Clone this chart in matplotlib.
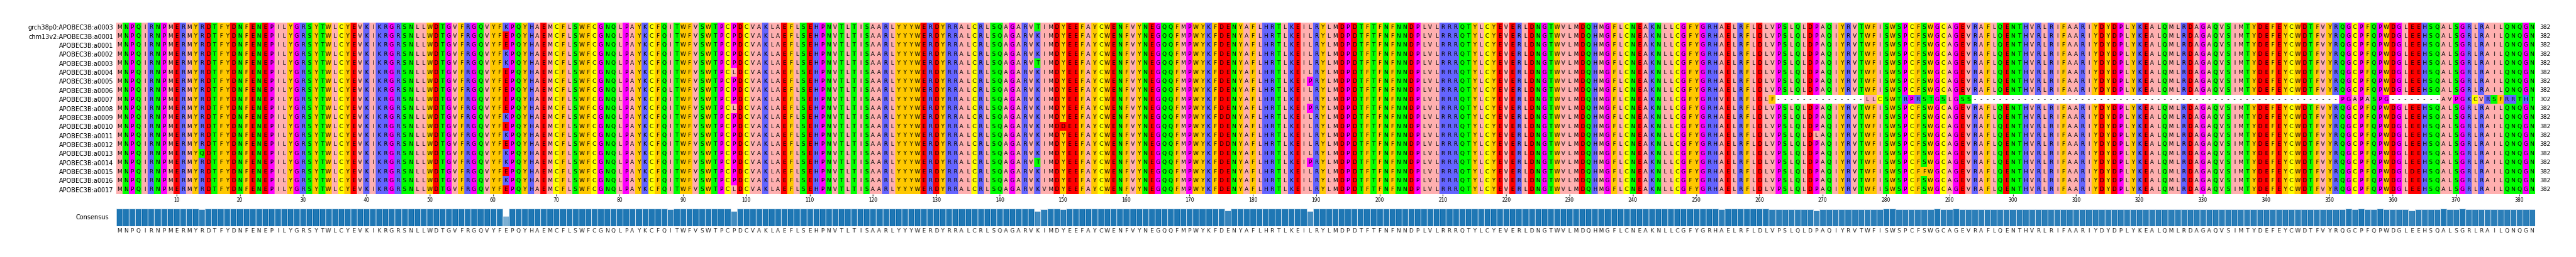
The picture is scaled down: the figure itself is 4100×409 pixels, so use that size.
import numpy as np
import matplotlib.pyplot as plt
from matplotlib.colors import to_rgb
from matplotlib.transforms import blended_transform_factory

# sequence names (top to bottom)
names = ["grch38p0:APOBEC3B:a0003", "chm13v2:APOBEC3B:a0001"] + \
        [f"APOBEC3B:a{i:04d}" for i in range(1, 18)]

# reference / consensus protein
consensus_seq = (
    "MNPQIRNPMERMYRDTFYDNFENEPILYGRSYTWLCYEVKIKRGRSNLLWDTGVFRGQVYFEPQYHAEMC"
    "FLSWFCGNQLPAYKCFQITWFVSWTPCPDCVAKLAEFLSEHPNVTLTISAARLYYYWERDYRRALCRLSQ"
    "AGARVKIMDYEEFAYCWENFVYNEGQQFMPWYKFDENYAFLHRTLKEILRYLMDPDTFTFNFNNDPLVLR"
    "RRQTYLCYEVERLDNGTWVLMDQHMGFLCNEAKNLLCGFYGRHAELRFLDLVPSLQLDPAQIYRVTWFIS"
    "WSPCFSWGCAGEVRAFLQENTHVRLRIFAARIYDYDPLYKEALQMLRDAGAQVSIMTYDEFEYCWDTFVY"
    "RQGCPFQPWDGLEEHSQALSGRLRAILQNQGN"
)

# point substitutions: (row index, 1-based position, residue)
substitutions = [
    (14, 14, "Q"),
    (0, 62, "K"), (3, 62, "K"), (4, 62, "K"), (10, 62, "K"),
    (12, 62, "K"), (14, 62, "K"), (15, 62, "K"), (17, 62, "K"),
    (7, 88, "L"),
    (5, 98, "L"), (9, 98, "L"), (18, 98, "L"),
    (0, 146, "T"), (4, 146, "T"), (15, 146, "T"),
    (18, 147, "V"),
    (11, 150, "D"),
    (10, 176, "D"), (13, 176, "D"),
    (6, 189, "P"), (9, 189, "P"), (15, 189, "P"),
    (12, 269, "L"),
    (16, 286, "F"),
    (16, 363, "D"),
]

# row with truncated / frameshifted tail (APOBEC3B:a0007), positions 248-382
gap_row = 8
gap_row_tail = ("GFYGRHVELRFLDLF" + "-" * 14 + "LLCSWTRPRSTGSLGSS" + "-" * 58 +
                "PGAPASPG" + "-" * 8 + "AVPGKCVRSFRRTHT")
gap_tail_start = 248

# Zappo colour scheme
zappo = {}
for aa in "ILVAM":
    zappo[aa] = "#ffafaf"
for aa in "FWY":
    zappo[aa] = "#ffc800"
for aa in "KRH":
    zappo[aa] = "#6464ff"
for aa in "DE":
    zappo[aa] = "#ff0000"
for aa in "STNQ":
    zappo[aa] = "#00ff00"
for aa in "PG":
    zappo[aa] = "#ff00ff"
zappo["C"] = "#ffff00"
zappo["-"] = "#ffffff"


def main():
    L = len(consensus_seq)
    rows = [list(consensus_seq) for _ in names]
    for r, pos, aa in substitutions:
        rows[r][pos - 1] = aa
    rows[gap_row][gap_tail_start - 1:] = list(gap_row_tail)
    lengths = [sum(c != "-" for c in r) for r in rows]

    img = np.array([[to_rgb(zappo[c]) for c in r] for r in rows])

    # consensus identity per column
    ident = []
    cons = []
    for j in range(L):
        col = [r[j] for r in rows]
        letters = [c for c in col if c != "-"]
        best = max(set(letters), key=letters.count)
        cons.append(best)
        ident.append(col.count(best) / len(col))
    ident = np.array(ident)
    base = np.array(to_rgb("#1f77b4"))
    bar_colors = [1 - (1 - base) * v for v in ident]

    W, H = 4100, 409
    fig = plt.figure(figsize=(W / 100, H / 100), dpi=100)
    ax = fig.add_axes([185 / W, 1 - 309 / H, 3850 / W, 273 / H])
    x = np.arange(1, L + 1)
    ax.imshow(img, extent=(0.5, L + 0.5, len(rows) - 0.5, -0.5),
              aspect="auto", interpolation="nearest")
    for i, r in enumerate(rows):
        for j, c in enumerate(r):
            ax.text(j + 1, i, c, ha="center", va="center", fontsize=6.5,
                    color="black")
    ax.set_xlim(0.5, L + 0.5)
    ax.set_ylim(len(rows) - 0.5, -0.5)
    ax.set_yticks(range(len(rows)))
    ax.set_yticklabels(names, fontsize=7)
    ax.tick_params(axis="y", length=0, pad=3)
    ax.set_xticks(np.arange(10, L + 1, 10))
    ax.tick_params(axis="x", labelsize=5.5, length=2, width=0.6, pad=1.5)
    for s in ax.spines.values():
        s.set_visible(False)
    tr = blended_transform_factory(ax.transAxes, ax.transData)
    for i, n in enumerate(lengths):
        ax.text(1.002, i, str(n), transform=tr, ha="left", va="center",
                fontsize=6.5)

    # consensus identity bars
    bx = fig.add_axes([185 / W, 1 - 360 / H, 3850 / W, 28 / H])
    bx.bar(x, ident, width=1.0, color=bar_colors, edgecolor="#cfe0ee",
           linewidth=0.7)
    bx.set_xlim(0.5, L + 0.5)
    bx.set_ylim(0, 1)
    bx.axis("off")
    for j, c in enumerate(cons):
        bx.text(j + 1, -0.12, c, ha="center", va="top", fontsize=6.5,
                color="#222222")
    bx.text(-0.003, 0.5, "Consensus", transform=bx.transAxes, ha="right",
            va="center", fontsize=7)

    fig.savefig("out.png", dpi=100)


if __name__ == "__main__":
    main()
